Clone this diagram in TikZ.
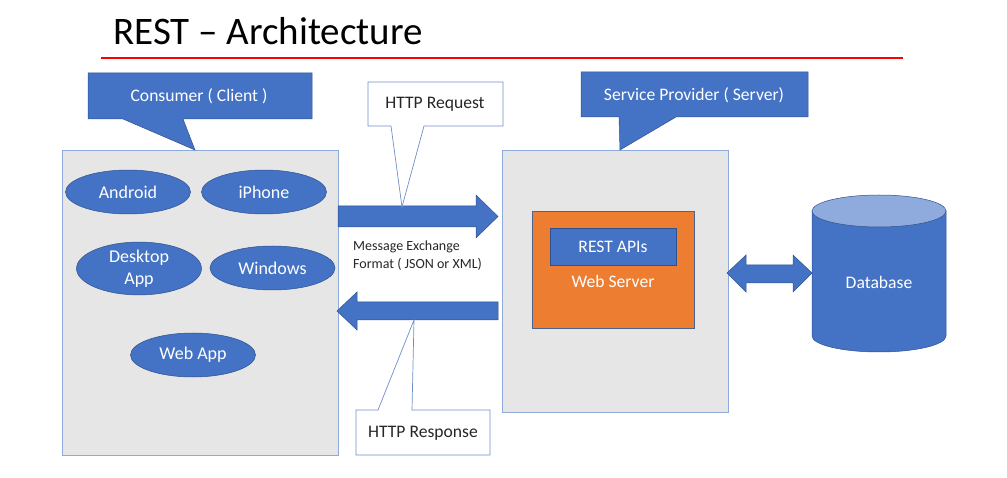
\documentclass[tikz,border=0pt]{standalone}
\usepackage{fontspec}
\setmainfont{Carlito}
\usetikzlibrary{shapes.geometric}
\definecolor{blu}{HTML}{4472C4}
\definecolor{bluedge}{HTML}{2F528F}
\definecolor{gry}{HTML}{E7E6E6}
\definecolor{gryedge}{HTML}{8EA9DB}
\definecolor{orng}{HTML}{ED7D31}
\definecolor{lightblu}{HTML}{8FAADC}
\definecolor{calledge}{HTML}{6F8FC9}
\tikzset{
  lbl/.style={font=\fontsize{17.6}{21}\selectfont, text=white, inner sep=0pt, align=center},
  dlbl/.style={font=\fontsize{17.6}{21}\selectfont, text=black!85, inner sep=0pt, align=center},
  ell/.style={ellipse, fill=blu, draw=bluedge, line width=0.5pt, minimum width=125pt, minimum height=44pt, inner sep=0pt, text=white, font=\fontsize{18}{22}\selectfont, align=center},
  greybox/.style={fill=gry, draw=gryedge, line width=0.8pt},
  bluecall/.style={fill=blu, draw=bluedge, line width=0.5pt},
  whitecall/.style={fill=white, draw=calledge, line width=0.7pt},
  blockarrow/.style={fill=blu, draw=bluedge, line width=0.5pt},
}
\begin{document}
\begin{tikzpicture}[x=1pt,y=-1pt]
\useasboundingbox (0,0) rectangle (1007,478);
% title
\node[anchor=base west, inner sep=0pt, font=\fontsize{39}{42}\selectfont] (title) at (113,45) {REST – Architecture};
\draw[red, line width=2.2pt] (101,58) -- (903,58);
% client box
\draw[greybox] (62,150) rectangle (338,455);
\coordinate (clientbox) at (200,302);
% consumer callout
\draw[bluecall] (88,73) -- (312,73) -- (312,119) -- (183,119) -- (195,150) -- (123,119) -- (88,119) -- cycle;
\node[lbl] (consumer) at (199,96) {Consumer ( Client )};
% ellipses
\node[ell] (android) at (128,192) {Android};
\node[ell] (iphone) at (264,192) {iPhone};
\node[ell] (desktop) at (139,268.5) {Desktop\\App};
\node[ell] (windows) at (272.5,268) {Windows};
\node[ell] (webapp) at (193,355) {Web App};
% server box
\draw[greybox] (502,150) rectangle (728,412);
\draw[fill=orng, draw=calledge!70!black, line width=0.5pt] (532,211) rectangle (694,328);
\draw[fill=blu, draw=bluedge, line width=0.5pt] (550,228) rectangle (676,265);
\node[lbl] (restapi) at (613,246.5) {REST APIs};
\node[lbl] (webserver) at (613,281) {Web Server};
% service callout
\draw[bluecall] (581,72) -- (808,72) -- (808,117) -- (676,117) -- (620,150) -- (619,117) -- (581,117) -- cycle;
\node[lbl] (provider) at (694,95) {Service Provider ( Server)};
% request arrow
\draw[blockarrow] (338,206) -- (476,206) -- (476,195) -- (498,216.5) -- (476,238) -- (476,227) -- (338,227) -- cycle;
% response arrow
\draw[blockarrow] (498,302) -- (357,302) -- (357,292) -- (337,311) -- (357,330) -- (357,320) -- (498,320) -- cycle;
% request callout
\draw[whitecall] (368,82) -- (503,82) -- (503,126) -- (424,126) -- (402,207) -- (391,126) -- (368,126) -- cycle;
\node[dlbl] (req) at (435,104) {HTTP Request};
% response callout
\draw[whitecall] (356,410) -- (378,410) -- (414,320) -- (412,410) -- (490,410) -- (490,455) -- (356,455) -- cycle;
\node[dlbl] (resp) at (423,433) {HTTP Response};
% message text
\node[anchor=north west, align=left, inner sep=0pt, text=black!85, font=\fontsize{14}{17.5}\selectfont] (msg) at (353,241) {Message Exchange\\Format ( JSON or XML)};
% double arrow
\draw[blockarrow] (727,273) -- (746,255) -- (746,265) -- (793,265) -- (793,255) -- (812,273) -- (793,292) -- (793,283) -- (746,283) -- (746,292) -- cycle;
% database cylinder
\draw[fill=blu, draw=bluedge, line width=0.5pt] (812,211) -- (812,336) arc[start angle=180, end angle=0, x radius=67, y radius=16] -- (946,211) -- cycle;
\draw[fill=lightblu, draw=bluedge, line width=0.5pt] (879,211) ellipse [x radius=67, y radius=16];
\node[lbl] (db) at (879,282) {Database};
\end{tikzpicture}
\end{document}
